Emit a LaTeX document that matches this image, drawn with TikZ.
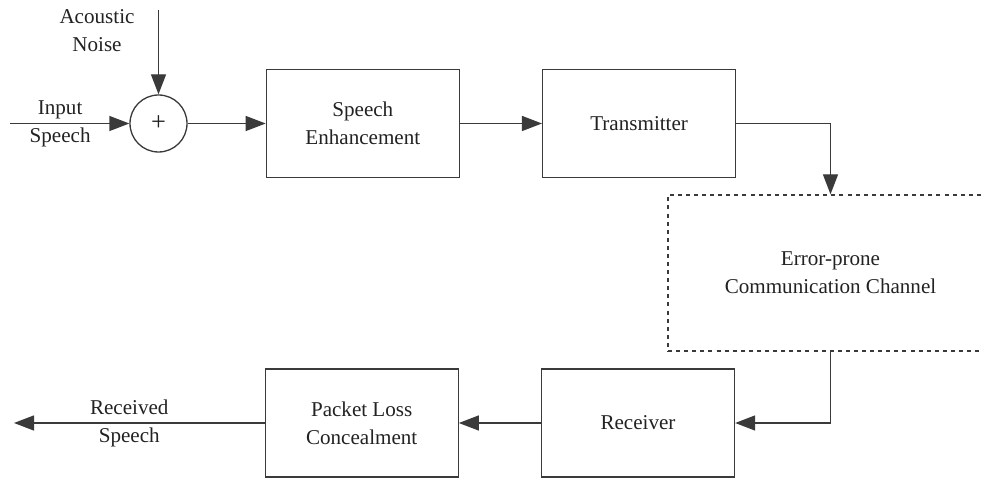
\documentclass[tikz,border=0pt]{standalone}
\usepackage{fontspec}
\setmainfont{Liberation Serif}
\newfontfamily\diagfont{Liberation Serif}
\usetikzlibrary{arrows.meta,positioning}
\definecolor{lineGray}{RGB}{58,58,58}
\definecolor{textGray}{RGB}{34,34,34}
\tikzset{
  block/.style={draw=lineGray, line width=0.75pt, align=center, text=textGray,
                minimum width=3.86cm, minimum height=2.16cm, inner sep=2pt},
  sumnode/.style={circle, draw=lineGray, line width=0.75pt, minimum size=1.14cm,
                  inner sep=0pt, text=textGray, font=\diagfont\fontsize{15}{16}\selectfont},
  chanbox/.style={block, dashed, dash pattern=on 2.3pt off 2.3pt,
                  minimum width=6.5cm, minimum height=3.12cm},
  lbl/.style={align=center, text=textGray},
  arrow/.style={-{Triangle[length=4mm, width=3mm]}, line width=0.75pt, draw=lineGray}
}

\begin{document}
\begin{tikzpicture}[font=\diagfont\fontsize{12}{16}\selectfont]
\useasboundingbox (0,0) rectangle (19.66,9.56);
% top row
\node[sumnode] (sum) at (3.17,7.09) {+};
\node[block, right=1.56cm of sum] (enh) {Speech\\Enhancement};
\node[block, right=1.64cm of enh] (tx) {Transmitter};
% channel
\node[chanbox] (chan) at (16.61,4.10) {Error-prone\\Communication Channel};
% bottom row
\node[block] (rx) at (12.76,1.10) {Receiver};
\node[block, left=1.64cm of rx] (plc) {Packet Loss\\Concealment};
% free ends
\coordinate (noise) at (3.17,9.36);
\coordinate (in) at (0.2,7.09);
\coordinate (out) at (0.28,1.10);
\node[lbl] (noiselbl) at (1.94,8.94) {Acoustic\\Noise};
% connectors
\draw[arrow] (noise) -- (sum);
\draw[arrow] (in) -- node[lbl, pos=0.42] (inlbl) {Input\\Speech} (sum);
\draw[arrow] (sum) -- (enh);
\draw[arrow] (enh) -- (tx);
\draw[arrow] (tx.east) -| (chan.north);
\draw[arrow] (chan.south) |- (rx.east);
\draw[arrow] (rx) -- (plc);
\draw[arrow] (plc) -- node[lbl, pos=0.54] (outlbl) {Received\\Speech} (out);
\end{tikzpicture}
\end{document}
